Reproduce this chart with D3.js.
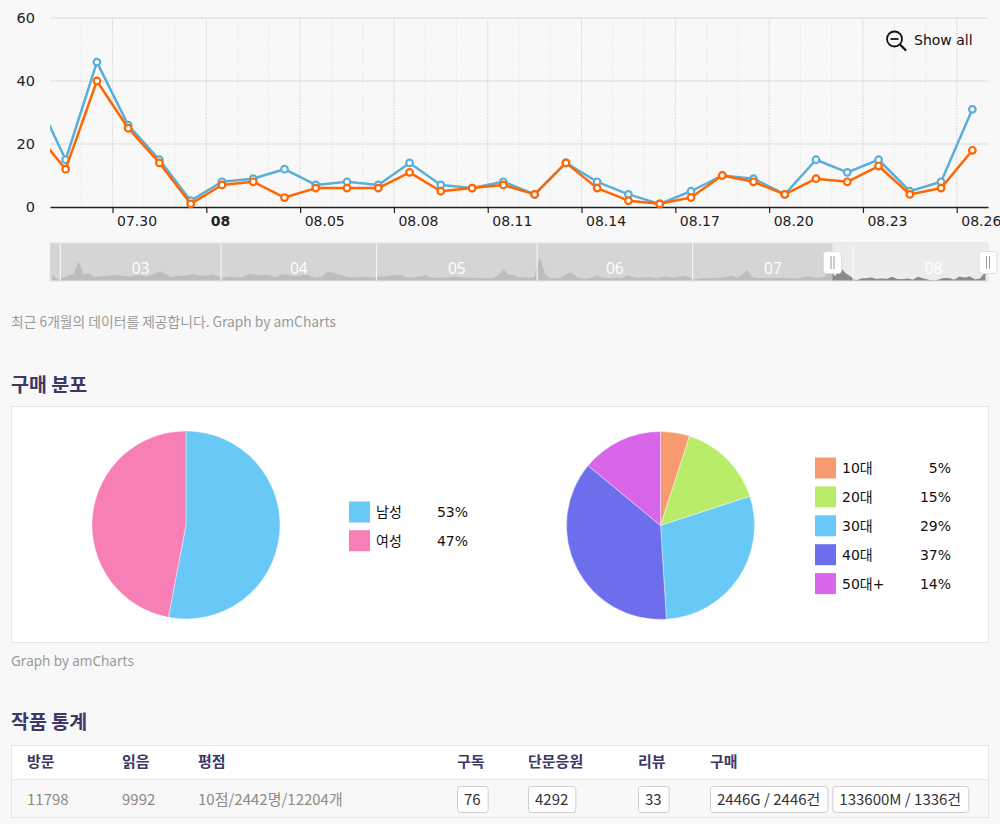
<!DOCTYPE html>
<html><head><meta charset="utf-8">
<script src="https://cdn.jsdelivr.net/npm/d3@7"></script>
<style>
html,body{margin:0;padding:0;background:#f8f8f8;}
svg{display:block;}
</style></head>
<body>
<svg id="c" width="1000" height="824"></svg>
<script>
// ---------------- DATA ----------------
// Overview (scrollbar) series: daily values 2019-02-27 .. 2019-07-26 (read from scrollbar profile)
const overviewStart = "2019-02-27";
const overviewEarly = [
  20, 4,
  11, 19, 22, 66, 24, 25, 13, 15, 17, 18, 20, 18, 17, 15, 20, 18, 14, 21, 27, 32, 22, 12, 18, 17, 18, 24, 19, 17, 19, 22, 15,
  11, 15, 13, 12, 15, 24, 21, 20, 21, 18, 11, 21, 22, 18, 15, 20, 21, 15, 11, 15, 29, 28, 23, 18, 13, 12, 13, 14, 13, 12,
  15, 15, 18, 19, 20, 13, 11, 13, 15, 19, 12, 11, 12, 11, 13, 15, 12, 11, 11, 10, 9, 9, 10, 19, 39, 20, 21, 11, 13, 10, 15,
  82, 24, 9, 9, 11, 22, 28, 15, 9, 8, 11, 18, 11, 10, 10, 11, 10, 19, 13, 11, 11, 13, 11, 11, 15, 13, 11, 15, 17, 11,
  6, 8, 9, 9, 10, 11, 13, 18, 11, 19, 38, 13, 10, 10, 11, 11, 10, 11, 9, 8, 9, 13, 17, 11, 11, 15
];
// Main chart series, daily from 2019-07-27 to 2019-08-26
const mainStart = "2019-07-27";
const seriesBlue   = [36, 15, 46, 26, 15, 2, 8, 9, 12, 7, 8, 7, 14, 7, 6, 8, 4, 14, 8, 4, 1, 5, 10, 9, 4, 15, 11, 15, 5, 8, 31];
const seriesOrange = [24, 12, 40, 25, 14, 1, 7, 8, 3, 6, 6, 6, 11, 5, 6, 7, 4, 14, 6, 2, 1, 3, 10, 8, 4, 9, 8, 13, 4, 6, 18];
const viewFrom = "2019-07-28", viewTo = "2019-08-27";
const tickDates  = ["2019-07-30","2019-08-02","2019-08-05","2019-08-08","2019-08-11","2019-08-14","2019-08-17","2019-08-20","2019-08-23","2019-08-26"];
const tickLabels = ["07.30","08","08.05","08.08","08.11","08.14","08.17","08.20","08.23","08.26"];
const boldTicks  = ["08"];
const yTicks = [0, 20, 40, 60];
const monthLabels = ["03","04","05","06","07","08"];

const genderLabels = ["남성","여성"];
const genderValues = [53, 47];
const genderColors = ["#69c9f6","#f77fb5"];
const ageLabels = ["10대","20대","30대","40대","50대+"];
const ageValues = [5, 15, 29, 37, 14];
const ageColors = ["#f79a70","#b8ec69","#69c9f6","#6d6eec","#d966e9"];

const statHeaders = ["방문","읽음","평점","구독","단문응원","리뷰","구매"];
const statPlain = ["11798","9992","10점/2442명/12204개"];
const statBoxed = [["76"],["4292"],["33"],["2446G / 2446건","133600M / 1336건"]];

// ---------------- DRAW ----------------
const parse = d3.timeParse("%Y-%m-%d");
const svg = d3.select("#c");
const chartFont = "Verdana, 'DejaVu Sans', 'Noto Sans CJK KR', sans-serif";
const pageFont = "'Noto Sans CJK KR', 'Noto Sans', sans-serif";
const noon = d => d3.timeHour.offset(d, 12);

const mainDates = d3.timeDay.range(parse(mainStart), d3.timeDay.offset(parse(mainStart), seriesBlue.length));
const x = d3.scaleTime().domain([parse(viewFrom), parse(viewTo)]).range([50, 988]);
const y = d3.scaleLinear().domain([0, 60]).range([207, 18]);

const defs = svg.append("defs");
defs.append("clipPath").attr("id","plotclip").append("rect")
  .attr("x",50).attr("y",0).attr("width",938).attr("height",240);

// vertical grid (each day) and majors
const g = svg.append("g");
const days = d3.timeDay.range(parse(viewFrom), parse(viewTo));
g.selectAll("line.vg").data(days.slice(1)).join("line")
  .attr("x1", d=>x(d)).attr("x2", d=>x(d)).attr("y1", 18).attr("y2", 207)
  .attr("stroke", "#e2e2e2").attr("stroke-dasharray","1,2");
g.selectAll("line.vm").data(tickDates.map(parse)).join("line")
  .attr("x1", d=>x(d)).attr("x2", d=>x(d)).attr("y1", 18).attr("y2", 207)
  .attr("stroke", "#d2d2d2").attr("stroke-dasharray","1,1.5");
// horizontal grid
g.selectAll("line.hg").data(yTicks.filter(v=>v>0)).join("line")
  .attr("x1", 50).attr("x2", 988).attr("y1", d=>y(d)).attr("y2", d=>y(d))
  .attr("stroke", "#dcdcdc").attr("stroke-width",1);

// y axis
const yAxis = svg.append("g").attr("transform","translate(50,0)")
  .call(d3.axisLeft(y).tickValues(yTicks).tickSize(0).tickPadding(15));
yAxis.select(".domain").remove();
yAxis.selectAll("text").attr("font-family", chartFont).attr("font-size", 14.5).attr("fill","#222");

// x axis
const xAxis = svg.append("g").attr("transform","translate(0,207)")
  .call(d3.axisBottom(x).tickValues(tickDates.map(parse)).tickSize(6).tickSizeOuter(0)
        .tickFormat((d,i)=>tickLabels[i]));
xAxis.select(".domain").attr("stroke","#222").attr("stroke-width",1.5);
xAxis.selectAll(".tick line").attr("stroke","#222").attr("stroke-width",1.2);
xAxis.selectAll("text").attr("font-family", chartFont).attr("font-size", 14).attr("fill","#222")
  .attr("text-anchor","start").attr("x", 4).attr("y", 9)
  .attr("font-weight", (d,i)=> boldTicks.includes(tickLabels[i]) ? "bold" : "normal");

// lines
const line = d3.line().x((d,i)=>x(noon(mainDates[i]))).y(d=>y(d));
const plot = svg.append("g").attr("clip-path","url(#plotclip)");
function drawSeries(vals, color){
  plot.append("path").datum(vals).attr("d", line).attr("fill","none")
    .attr("stroke", color).attr("stroke-width", 2.5).attr("stroke-linejoin","round");
  plot.append("g").selectAll("circle").data(vals).join("circle")
    .attr("cx", (d,i)=>x(noon(mainDates[i]))).attr("cy", d=>y(d)).attr("r", 3.3)
    .attr("fill","#fff").attr("stroke", color).attr("stroke-width", 2.2);
}
drawSeries(seriesBlue, "#5aaed8");
drawSeries(seriesOrange, "#ff6600");

// Show all button
const sa = svg.append("g");
sa.append("circle").attr("cx",894.5).attr("cy",39).attr("r",7.5).attr("fill","none").attr("stroke","#111").attr("stroke-width",1.8);
sa.append("line").attr("x1",890.5).attr("x2",898.5).attr("y1",39).attr("y2",39).attr("stroke","#111").attr("stroke-width",1.8);
sa.append("line").attr("x1",900).attr("y1",44.5).attr("x2",905.5).attr("y2",50).attr("stroke","#111").attr("stroke-width",2.2).attr("stroke-linecap","round");
sa.append("text").attr("x",914).attr("y",45).text("Show all")
  .attr("font-family", chartFont).attr("font-size",14).attr("fill","#111");

// ---------------- SCROLLBAR ----------------
const overview = overviewEarly.concat(seriesBlue);
const ovDates = d3.timeDay.range(parse(overviewStart), d3.timeDay.offset(parse(overviewStart), overview.length));
const sx = d3.scaleTime().domain([parse(overviewStart), d3.timeDay.offset(parse(overviewStart), overview.length)]).range([50, 988]);
const sy = d3.scaleLinear().domain([0, 127]).range([281, 243]);
const selX0 = sx(parse(viewFrom)), selX1 = sx(parse(viewTo));

defs.append("clipPath").attr("id","scrollclip").append("rect").attr("x",50).attr("y",243).attr("width",938).attr("height",38);
defs.append("clipPath").attr("id","selclip").append("rect").attr("x",selX0).attr("y",243).attr("width",selX1-selX0).attr("height",38);

const sb = svg.append("g");
sb.append("rect").attr("x",50).attr("y",243).attr("width",938).attr("height",38).attr("fill","#d5d5d5");
sb.append("rect").attr("x",selX0).attr("y",243).attr("width",selX1-selX0).attr("height",38).attr("fill","#ececec");
const area = d3.area().x((d,i)=>sx(noon(ovDates[i]))).y0(281).y1(d=>sy(d));
sb.append("path").datum(overview).attr("d",area).attr("fill","#bdbdbd").attr("clip-path","url(#scrollclip)");
sb.append("path").datum(overview).attr("d",area).attr("fill","#8a8a8a").attr("clip-path","url(#selclip)");
const months = d3.timeMonth.range(parse("2019-03-01"), parse(viewTo));
sb.selectAll("line.md").data(months).join("line")
  .attr("x1",d=>sx(d)).attr("x2",d=>sx(d)).attr("y1",243).attr("y2",281)
  .attr("stroke","#f4f4f4").attr("stroke-width",1.2);
sb.selectAll("text.ml").data(months).join("text")
  .attr("x", d=> (sx(d)+sx(d3.timeMonth.offset(d,1)))/2).attr("y", 273.5)
  .attr("text-anchor","middle").attr("fill","#fff").attr("font-size",15.5)
  .attr("font-family","'Open Sans','Noto Sans',sans-serif")
  .text((d,i)=>monthLabels[i]);
sb.append("rect").attr("x",50).attr("y",243).attr("width",938).attr("height",38).attr("fill","none").attr("stroke","#e4e4e4");
[selX0, selX1].forEach(hx=>{
  const h = sb.append("g");
  h.append("rect").attr("x",hx-9).attr("y",251.5).attr("width",18).attr("height",22).attr("rx",3)
    .attr("fill","#fff").attr("stroke","#dedede");
  h.append("line").attr("x1",hx-1.5).attr("x2",hx-1.5).attr("y1",256).attr("y2",269).attr("stroke","#999").attr("stroke-width",1);
  h.append("line").attr("x1",hx+1.5).attr("x2",hx+1.5).attr("y1",256).attr("y2",269).attr("stroke","#999").attr("stroke-width",1);
});

svg.append("text").attr("x",11).attr("y",327).text("최근 6개월의 데이터를 제공합니다. Graph by amCharts")
  .attr("font-family",pageFont).attr("font-size",13.8).attr("fill","#9a9a9a");

// ---------------- PIES ----------------
svg.append("text").attr("x",11).attr("y",392).text("구매 분포")
  .attr("font-family",pageFont).attr("font-size",19.5).attr("font-weight","bold").attr("fill","#3f3768");
svg.append("rect").attr("x",11.5).attr("y",406.5).attr("width",977).attr("height",236)
  .attr("fill","#fff").attr("stroke","#e6e6e6");

const pie = d3.pie().sort(null).value(d=>d);
const arc = d3.arc().innerRadius(0).outerRadius(94);
function drawPie(cx, cy, vals, colors){
  svg.append("g").attr("transform",`translate(${cx},${cy})`)
    .selectAll("path").data(pie(vals)).join("path")
    .attr("d",arc).attr("fill",(d,i)=>colors[i]).attr("stroke","#fff").attr("stroke-width",0.4);
}
drawPie(186, 525, genderValues, genderColors);
drawPie(660.5, 525.5, ageValues, ageColors);

function drawLegend(x0, y0, step, labels, vals, colors, valRight){
  const lg = svg.append("g");
  labels.forEach((lab,i)=>{
    const yy = y0 + i*step;
    lg.append("rect").attr("x",x0).attr("y",yy).attr("width",21).attr("height",21).attr("fill",colors[i]);
    lg.append("text").attr("x",x0+27).attr("y",yy+15.5).text(lab)
      .attr("font-family",chartFont).attr("font-size",14).attr("fill","#111");
    lg.append("text").attr("x",valRight).attr("y",yy+15.5).text(vals[i]+"%")
      .attr("text-anchor","end").attr("font-family",chartFont).attr("font-size",14).attr("fill","#111");
  });
}
drawLegend(349, 501.5, 28.7, genderLabels, genderValues, genderColors, 468);
drawLegend(815, 457.5, 28.9, ageLabels, ageValues, ageColors, 951);

svg.append("text").attr("x",11).attr("y",666).text("Graph by amCharts")
  .attr("font-family","'Noto Sans','Open Sans',sans-serif").attr("font-size",13.5).attr("fill","#9a9a9a");

// ---------------- TABLE ----------------
svg.append("text").attr("x",11).attr("y",729).text("작품 통계")
  .attr("font-family",pageFont).attr("font-size",19.5).attr("font-weight","bold").attr("fill","#3f3768");
const colX = [27, 122, 198, 457, 528, 638, 710];
svg.append("rect").attr("x",11.5).attr("y",745.5).attr("width",977).attr("height",72).attr("fill","#f8f8f8").attr("stroke","#e6e6e6");
svg.append("rect").attr("x",12).attr("y",746).attr("width",976).attr("height",33).attr("fill","#fff");
svg.append("line").attr("x1",12).attr("x2",988).attr("y1",779.5).attr("y2",779.5).attr("stroke","#e6e6e6");
svg.selectAll("text.th").data(statHeaders).join("text")
  .attr("x",(d,i)=>colX[i]).attr("y",767).text(d=>d)
  .attr("font-family",pageFont).attr("font-size",15).attr("font-weight","bold").attr("fill","#3f3768");
svg.selectAll("text.td").data(statPlain).join("text")
  .attr("x",(d,i)=>colX[i]).attr("y",804.5).text(d=>d)
  .attr("font-family",pageFont).attr("font-size",15).attr("fill","#8e8a86");
statBoxed.forEach((items, j)=>{
  let bx = colX[3+j];
  items.forEach(txt=>{
    const grp = svg.append("g");
    const r = grp.append("rect").attr("y",786.5).attr("height",26).attr("rx",3)
      .attr("fill","#fff").attr("stroke","#cfcfcf");
    const t = grp.append("text").attr("x",bx+7).attr("y",804.5).text(txt)
      .attr("font-family",pageFont).attr("font-size",15).attr("fill","#333");
    const w = t.node().getComputedTextLength() + 14;
    r.attr("x",bx+0.5).attr("width",w);
    bx += w + 5;
  });
});
</script>
</body></html>
